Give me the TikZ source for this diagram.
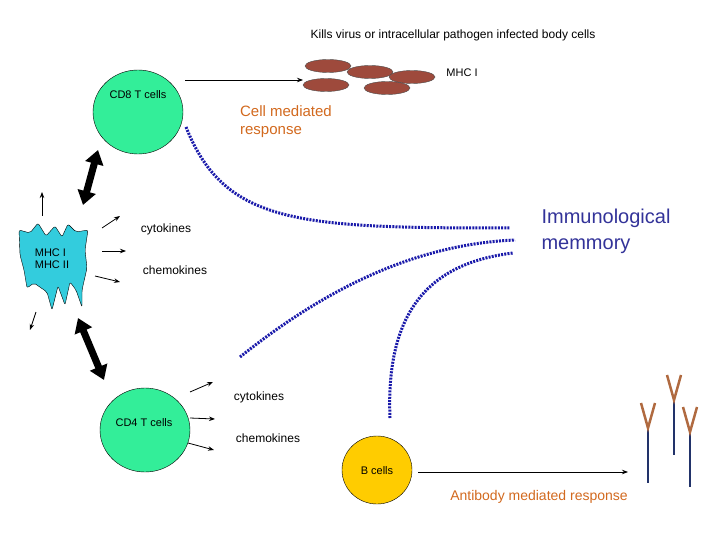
\documentclass[tikz,border=0pt]{standalone}
\usepackage{fontspec}
\setmainfont{Liberation Sans}
\usetikzlibrary{positioning,arrows.meta,shapes.geometric}
\definecolor{cellred}{HTML}{9E4A3C}
\definecolor{tgreen}{HTML}{33EE99}
\definecolor{dccyan}{HTML}{33CCDD}
\definecolor{bgold}{HTML}{FFCC00}
\definecolor{resp}{HTML}{D2691E}
\definecolor{memblue}{HTML}{333399}
\definecolor{dotblue}{HTML}{1A1AAA}
\definecolor{abarm}{HTML}{B06A40}
\definecolor{abstem}{HTML}{22336A}

\begin{document}
\begin{tikzpicture}[x=1pt,y=-1pt,
    lbl/.style={font=\fontsize{12}{14}\selectfont, align=left},
    cell/.style={ellipse, draw=black, fill=tgreen, minimum width=90, minimum height=84},
    rbc/.style={ellipse, draw=black!70, fill=cellred, minimum width=46, minimum height=13},
    small/.style={-{Stealth[length=6]}, thick},
    big/.style={{Triangle[length=14,width=18]}-{Triangle[length=14,width=18]}, line width=7, draw=black},
    memory/.style={draw=dotblue, line width=3, dash pattern=on 2 off 1.2},
    antibody/.pic={
        \draw[abstem, line width=2] (0,0) -- (0,55);
        \draw[abarm, line width=2.5] (-7,-25) -- (0,0) -- (7,-25);}
    ]
    \useasboundingbox (0,0) rectangle (720,540);
    %Nodes
    \node[lbl] (kill) at (453,35) {Kills virus or intracellular pathogen infected body cells};
    \node[rbc] (r1) at (328,66) {};
    \node[rbc] (r2) at (370,72) {};
    \node[rbc] (r3) at (412,77) {};
    \node[rbc] (r4) at (326,85) {};
    \node[rbc] (r5) at (387,88) {};
    \node[lbl, font=\fontsize{11}{13}\selectfont] (mhc1) at (462,73) {MHC I};
    \node[cell] (cd8) at (138,112) {};
    \node[lbl, font=\fontsize{11}{13}\selectfont] at (138,95) {CD8 T cells};
    \node[lbl, text=resp, font=\fontsize{15}{18}\selectfont] (cmr) at (286,122) {Cell mediated\\response};
    \node[lbl, text=memblue, font=\fontsize{20}{26}\selectfont] (mem) at (606,231) {Immunological\\memmory};
    \coordinate (m1) at (510,228);
    \coordinate (m2) at (515,240);
    \coordinate (m3) at (513,253);

    \filldraw[fill=dccyan, draw=black, rounded corners=2]
        (19,230) -- (30,233) -- (38,223) -- (46,236) -- (55,226) -- (62,237) -- (68,224)
        -- (76,232) -- (88,230) -- (85,250) -- (87,268) -- (82,290) -- (82,307) -- (76,290)
        -- (70,282) -- (65,305) -- (58,286) -- (52,310) -- (47,292) -- (34,283) -- (27,288)
        -- (24,270) -- (20,255) -- cycle;
    \node[lbl, font=\fontsize{11}{12}\selectfont] (dc) at (52,259) {MHC I\\MHC II};
    \node[lbl] (cyt1) at (166,229) {cytokines};
    \node[lbl] (chem1) at (175,270) {chemokines};

    \node[cell] (cd4) at (145,430) {};
    \node[lbl, font=\fontsize{11}{13}\selectfont] at (144,423) {CD4 T cells};
    \node[lbl] (cyt2) at (259,397) {cytokines};
    \node[lbl] (chem2) at (268,438) {chemokines};
    \node[cell, fill=bgold, minimum width=70, minimum height=68] (bc) at (377,470) {};
    \node[lbl, font=\fontsize{11}{13}\selectfont] at (377,471) {B cells};
    \node[lbl, text=resp, font=\fontsize{14}{16}\selectfont] (amr) at (539,497) {Antibody mediated response};
    \coordinate (abt) at (628,472);

    %Lines
    \draw[small] (185,80) -- (303,80);
    \draw[small] (bc.east) ++(6,2) -- (abt);
    \draw[small] (42,216) -- (42,192);
    \draw[small] (102,228) -- (120,216);
    \draw[small] (102,251) -- (126,251);
    \draw[small] (95,276) -- (120,282);
    \draw[small] (36,312) -- (30,330);
    \draw[small] (190,392) -- (213,382);
    \draw[small] (190,418) -- (215,419);
    \draw[small] (188,443) -- (214,450);
    \draw[big] (98,150) -- (83,205);
    \draw[big] (78,318) -- (104,380);
    \draw[memory] (186,127) .. controls (225,225) and (300,228) .. (m1);
    \draw[memory] (240,357) .. controls (330,285) and (420,244) .. (m2);
    \draw[memory] (390,418) .. controls (385,300) and (440,262) .. (m3);

    \pic at (648,428) {antibody};
    \pic at (674,400) {antibody};
    \pic at (690,432) {antibody};
\end{tikzpicture}
\end{document}
